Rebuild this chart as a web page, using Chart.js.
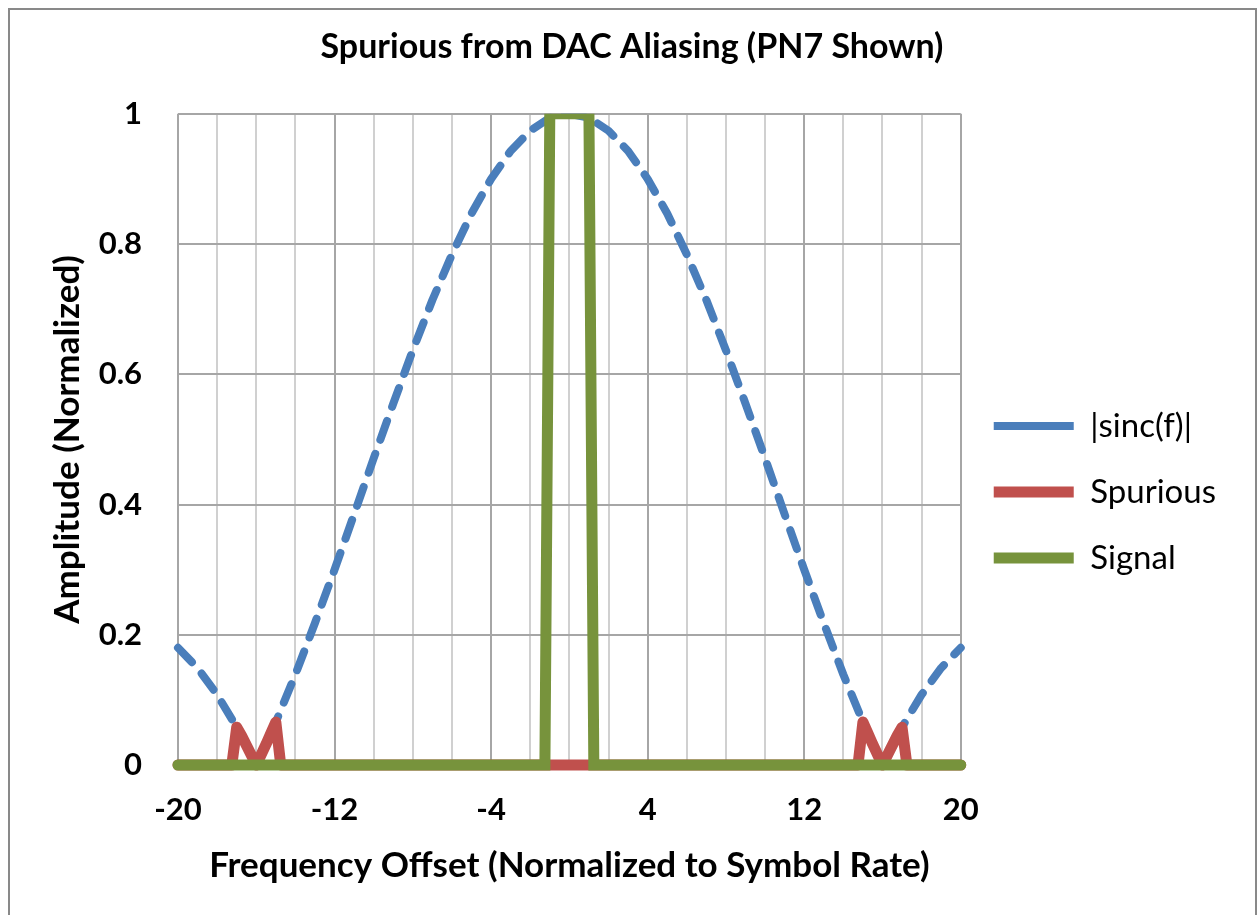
<!DOCTYPE html>
<html>
<head>
<meta charset="utf-8">
<title>Spurious from DAC Aliasing</title>
<script src="https://cdn.jsdelivr.net/npm/chart.js@4/dist/chart.umd.min.js"></script>
<style>
  html, body { margin: 0; padding: 0; background: #fff; }
</style>
</head>
<body>
<canvas id="chart" width="1258" height="915"></canvas>
<script>
// |sinc(f)| envelope, read every 1 unit of frequency offset
const sincFreq = [-20, -19, -18, -17, -16, -15, -14, -13, -12, -11, -10, -9, -8, -7, -6, -5, -4, -3, -2, -1, 0,
  1, 2, 3, 4, 5, 6, 7, 8, 9, 10, 11, 12, 13, 14, 15, 16, 17, 18, 19, 20];
const sincAmp = [0.180, 0.149, 0.108, 0.058, 0, 0.066, 0.139, 0.218, 0.300, 0.385, 0.471, 0.555, 0.637, 0.714, 0.784, 0.847, 0.900, 0.943, 0.974, 0.994, 1,
  0.994, 0.974, 0.943, 0.900, 0.847, 0.784, 0.714, 0.637, 0.555, 0.471, 0.385, 0.300, 0.218, 0.139, 0.066, 0, 0.058, 0.108, 0.149, 0.180];

// aliased images of the signal around +/-16
const spurFreq = [-20, -17.25, -17, -16.75, -16.5, -16.25, -16, -15.75, -15.5, -15.25, -15, -14.75,
  14.75, 15, 15.25, 15.5, 15.75, 16, 16.25, 16.5, 16.75, 17, 17.25, 20];
const spurAmp = [0, 0, 0.058, 0.045, 0.030, 0.015, 0, 0.016, 0.032, 0.049, 0.066, 0,
  0, 0.066, 0.049, 0.032, 0.016, 0, 0.015, 0.030, 0.045, 0.058, 0, 0];

// the wanted signal band
const sigFreq = [-20, -1.25, -1, 1, 1.25, 20];
const sigAmp = [0, 0, 1, 1, 0, 0];

const xTickLabels = [-20, -12, -4, 4, 12, 20];
const yTicks = [0, 0.2, 0.4, 0.6, 0.8, 1];

const FONT = "Lato, 'Open Sans', sans-serif";

const toPoints = (xs, ys) => xs.map((x, i) => ({ x: x, y: ys[i] }));

// white page with the grey frame round the chart
const frame = {
  id: "frame",
  beforeDraw(chart) {
    const ctx = chart.ctx;
    ctx.save();
    ctx.fillStyle = "#fff";
    ctx.fillRect(0, 0, chart.width, chart.height);
    ctx.strokeStyle = "#898989";
    ctx.lineWidth = 2;
    ctx.strokeRect(9, 9, 1247, 1000);
    ctx.restore();
  },
};

// the title sits centred on the whole page, not on the space left of the legend padding
const titleShift = {
  id: "titleShift",
  afterLayout(chart) {
    if (chart.titleBlock) {
      chart.titleBlock.left += 19;
      chart.titleBlock.right += 19;
    }
  },
};

// lines are cut at the top of the plot, like the original
const plotClip = { left: 8, top: 0, right: 8, bottom: 8 };

new Chart(document.getElementById("chart"), {
  type: "scatter",
  data: {
    datasets: [
      {
        label: "|sinc(f)|",
        data: toPoints(sincFreq, sincAmp),
        showLine: true,
        borderColor: "#4A7EBB",
        backgroundColor: "#4A7EBB",
        borderWidth: 8,
        borderDash: [20, 15],
        borderCapStyle: "round",
        borderJoinStyle: "round",
        pointRadius: 0,
        clip: plotClip,
        order: 3,
      },
      {
        label: "Spurious",
        data: toPoints(spurFreq, spurAmp),
        showLine: true,
        borderColor: "#C0504D",
        backgroundColor: "#C0504D",
        borderWidth: 11,
        borderCapStyle: "round",
        borderJoinStyle: "round",
        pointRadius: 0,
        clip: plotClip,
        order: 2,
      },
      {
        label: "Signal",
        data: toPoints(sigFreq, sigAmp),
        showLine: true,
        borderColor: "#77933C",
        backgroundColor: "#77933C",
        borderWidth: 11,
        borderCapStyle: "round",
        borderJoinStyle: "miter",
        pointRadius: 0,
        clip: plotClip,
        order: 1,
      },
    ],
  },
  options: {
    responsive: false,
    animation: false,
    layout: { padding: { top: 27, right: 32, bottom: 0, left: 0 } },
    plugins: {
      title: {
        display: true,
        text: "Spurious from DAC Aliasing (PN7 Shown)",
        color: "#000",
        font: { family: FONT, size: 34, weight: "bold" },
        padding: { top: 0, bottom: 46 },
      },
      legend: {
        position: "right",
        title: { display: true, text: " ", font: { size: 1 }, padding: { top: 0, bottom: 41 } },
        labels: {
          color: "#000",
          font: { family: FONT, size: 33 },
          usePointStyle: true,
          pointStyle: "line",
          pointStyleWidth: 80,
          padding: 33,
          sort: (a, b) => a.datasetIndex - b.datasetIndex,
        },
      },
      tooltip: { enabled: false },
    },
    scales: {
      x: {
        type: "linear",
        min: -20,
        max: 20,
        afterFit: (s) => { s.height = 150; },
        afterBuildTicks: (s) => {
          s.ticks = [];
          for (let v = -20; v <= 20; v += 2) s.ticks.push({ value: v });
        },
        ticks: {
          autoSkip: false,
          maxRotation: 0,
          padding: 26,
          color: "#000",
          font: { family: FONT, size: 31, weight: "bold" },
          callback: (v) => (xTickLabels.includes(v) ? String(v) : ""),
        },
        grid: {
          drawTicks: false,
          lineWidth: 2,
          color: (c) => (c.tick && xTickLabels.includes(c.tick.value) ? "#a6a6a6" : "#d0d0d0"),
        },
        border: { display: false },
        title: {
          display: true,
          text: "Frequency Offset (Normalized to Symbol Rate)",
          color: "#000",
          font: { family: FONT, size: 35, weight: "bold" },
          padding: { top: 0, bottom: 28 },
        },
      },
      y: {
        min: 0,
        max: 1,
        afterFit: (s) => { s.width = 178; },
        afterBuildTicks: (s) => { s.ticks = yTicks.map((v) => ({ value: v })); },
        ticks: {
          padding: 36,
          color: "#000",
          font: { family: FONT, size: 31, weight: "bold" },
          callback: (v) => String(Number(v.toFixed(1))),
        },
        grid: { drawTicks: false, lineWidth: 2, color: "#a6a6a6" },
        border: { display: false },
        title: {
          display: true,
          text: "Amplitude (Normalized)",
          color: "#000",
          font: { family: FONT, size: 35, weight: "bold" },
          padding: { top: 47, bottom: 0 },
        },
      },
    },
  },
  plugins: [frame, titleShift],
});
</script>
</body>
</html>
